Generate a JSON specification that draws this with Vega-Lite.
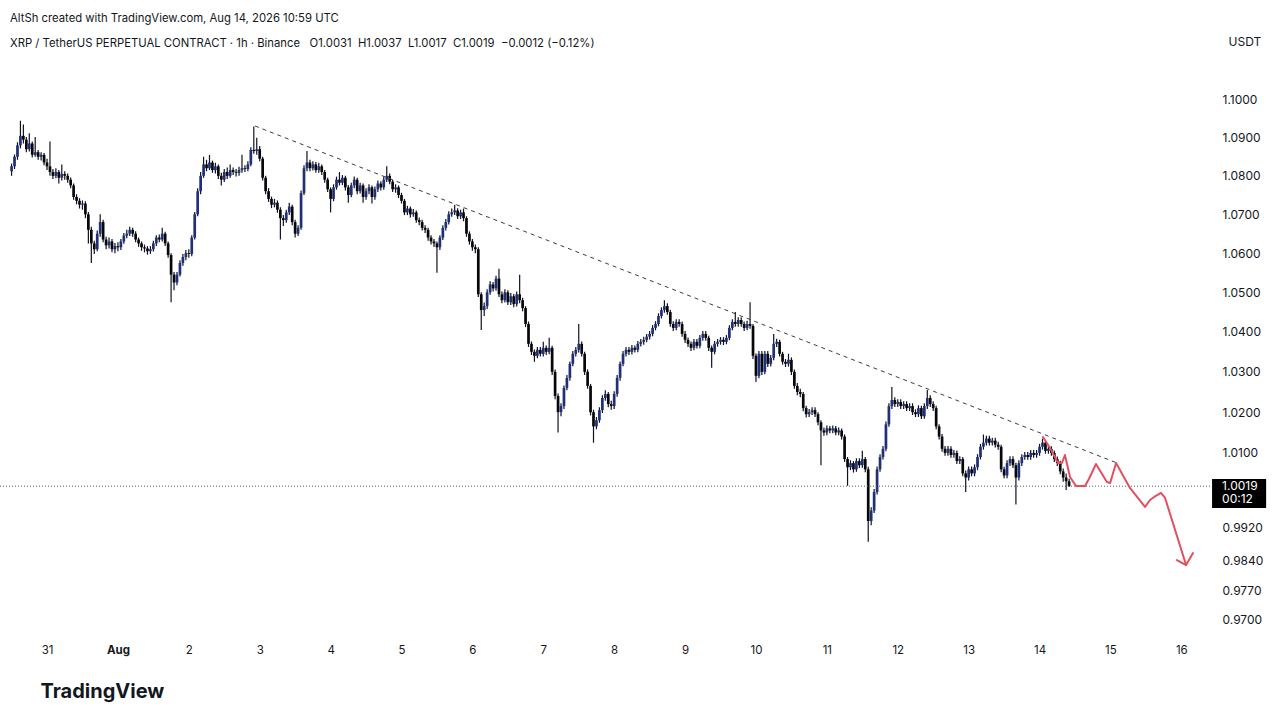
{
  "$schema": "https://vega.github.io/schema/vega-lite/v6.json",
  "width": 1210,
  "height": 565,
  "autosize": "none",
  "padding": {"left": 0, "top": 70, "right": 70, "bottom": 84},
  "background": "#ffffff",
  "config": {"view": {"stroke": null}, "font": "Inter"},
  "title": {
    "text": "AltSh created with TradingView.com, Aug 14, 2026 10:59 UTC",
    "subtitle": "\u00a0\u00a0XRP / TetherUS PERPETUAL CONTRACT · 1h · Binance\u00a0\u00a0 O1.0031\u00a0 H1.0037\u00a0 L1.0017\u00a0 C1.0019\u00a0 −0.0012 (−0.12%)",
    "anchor": "start",
    "frame": "group",
    "dx": 10,
    "dy": 38,
    "offset": 24,
    "font": "Inter",
    "fontSize": 11.3,
    "fontWeight": "normal",
    "color": "#131722",
    "subtitleFont": "Inter",
    "subtitleFontSize": 11.3,
    "subtitleColor": "#131722",
    "subtitlePadding": 13
  },
  "datasets": {
    "candles": [
      {"t":"2026-07-30T12:00","o":1.0812,"h":1.0832,"l":1.0800,"c":1.0825},
      {"t":"2026-07-30T13:00","o":1.0825,"h":1.0856,"l":1.0818,"c":1.0850},
      {"t":"2026-07-30T14:00","o":1.0850,"h":1.0888,"l":1.0842,"c":1.0880},
      {"t":"2026-07-30T15:00","o":1.0880,"h":1.0945,"l":1.0872,"c":1.0905},
      {"t":"2026-07-30T16:00","o":1.0905,"h":1.0935,"l":1.0885,"c":1.0895},
      {"t":"2026-07-30T17:00","o":1.0895,"h":1.0902,"l":1.0862,"c":1.0870},
      {"t":"2026-07-30T18:00","o":1.0870,"h":1.0912,"l":1.0864,"c":1.0885},
      {"t":"2026-07-30T19:00","o":1.0885,"h":1.0890,"l":1.0848,"c":1.0855},
      {"t":"2026-07-30T20:00","o":1.0855,"h":1.0902,"l":1.0850,"c":1.0862},
      {"t":"2026-07-30T21:00","o":1.0862,"h":1.0868,"l":1.0842,"c":1.0850},
      {"t":"2026-07-30T22:00","o":1.0850,"h":1.0862,"l":1.0840,"c":1.0855},
      {"t":"2026-07-30T23:00","o":1.0855,"h":1.0860,"l":1.0828,"c":1.0835},
      {"t":"2026-07-31T00:00","o":1.0835,"h":1.0845,"l":1.0815,"c":1.0825},
      {"t":"2026-07-31T01:00","o":1.0825,"h":1.0890,"l":1.0800,"c":1.0810},
      {"t":"2026-07-31T02:00","o":1.0810,"h":1.0818,"l":1.0792,"c":1.0800},
      {"t":"2026-07-31T03:00","o":1.0800,"h":1.0820,"l":1.0794,"c":1.0810},
      {"t":"2026-07-31T04:00","o":1.0810,"h":1.0815,"l":1.0780,"c":1.0795},
      {"t":"2026-07-31T05:00","o":1.0795,"h":1.0830,"l":1.0788,"c":1.0805},
      {"t":"2026-07-31T06:00","o":1.0805,"h":1.0812,"l":1.0790,"c":1.0800},
      {"t":"2026-07-31T07:00","o":1.0800,"h":1.0806,"l":1.0782,"c":1.0790},
      {"t":"2026-07-31T08:00","o":1.0790,"h":1.0796,"l":1.0768,"c":1.0775},
      {"t":"2026-07-31T09:00","o":1.0775,"h":1.0780,"l":1.0738,"c":1.0745},
      {"t":"2026-07-31T10:00","o":1.0745,"h":1.0752,"l":1.0726,"c":1.0735},
      {"t":"2026-07-31T11:00","o":1.0735,"h":1.0742,"l":1.0715,"c":1.0725},
      {"t":"2026-07-31T12:00","o":1.0725,"h":1.0736,"l":1.0712,"c":1.0728},
      {"t":"2026-07-31T13:00","o":1.0728,"h":1.0734,"l":1.0690,"c":1.0700},
      {"t":"2026-07-31T14:00","o":1.0700,"h":1.0706,"l":1.0625,"c":1.0660},
      {"t":"2026-07-31T15:00","o":1.0660,"h":1.0668,"l":1.0575,"c":1.0625},
      {"t":"2026-07-31T16:00","o":1.0625,"h":1.0632,"l":1.0598,"c":1.0610},
      {"t":"2026-07-31T17:00","o":1.0610,"h":1.0658,"l":1.0605,"c":1.0650},
      {"t":"2026-07-31T18:00","o":1.0650,"h":1.0700,"l":1.0642,"c":1.0680},
      {"t":"2026-07-31T19:00","o":1.0680,"h":1.0686,"l":1.0628,"c":1.0635},
      {"t":"2026-07-31T20:00","o":1.0635,"h":1.0642,"l":1.0610,"c":1.0620},
      {"t":"2026-07-31T21:00","o":1.0620,"h":1.0640,"l":1.0612,"c":1.0630},
      {"t":"2026-07-31T22:00","o":1.0630,"h":1.0636,"l":1.0602,"c":1.0610},
      {"t":"2026-07-31T23:00","o":1.0610,"h":1.0626,"l":1.0600,"c":1.0618},
      {"t":"2026-08-01T00:00","o":1.0618,"h":1.0628,"l":1.0605,"c":1.0615},
      {"t":"2026-08-01T01:00","o":1.0615,"h":1.0636,"l":1.0608,"c":1.0630},
      {"t":"2026-08-01T02:00","o":1.0630,"h":1.0652,"l":1.0624,"c":1.0645},
      {"t":"2026-08-01T03:00","o":1.0645,"h":1.0660,"l":1.0638,"c":1.0650},
      {"t":"2026-08-01T04:00","o":1.0650,"h":1.0668,"l":1.0644,"c":1.0660},
      {"t":"2026-08-01T05:00","o":1.0660,"h":1.0665,"l":1.0642,"c":1.0650},
      {"t":"2026-08-01T06:00","o":1.0650,"h":1.0656,"l":1.0628,"c":1.0635},
      {"t":"2026-08-01T07:00","o":1.0635,"h":1.0640,"l":1.0616,"c":1.0625},
      {"t":"2026-08-01T08:00","o":1.0625,"h":1.0630,"l":1.0606,"c":1.0615},
      {"t":"2026-08-01T09:00","o":1.0615,"h":1.0622,"l":1.0602,"c":1.0612},
      {"t":"2026-08-01T10:00","o":1.0612,"h":1.0618,"l":1.0596,"c":1.0605},
      {"t":"2026-08-01T11:00","o":1.0605,"h":1.0618,"l":1.0598,"c":1.0610},
      {"t":"2026-08-01T12:00","o":1.0610,"h":1.0632,"l":1.0604,"c":1.0625},
      {"t":"2026-08-01T13:00","o":1.0625,"h":1.0646,"l":1.0618,"c":1.0640},
      {"t":"2026-08-01T14:00","o":1.0640,"h":1.0648,"l":1.0628,"c":1.0635},
      {"t":"2026-08-01T15:00","o":1.0635,"h":1.0665,"l":1.0630,"c":1.0650},
      {"t":"2026-08-01T16:00","o":1.0650,"h":1.0655,"l":1.0618,"c":1.0625},
      {"t":"2026-08-01T17:00","o":1.0625,"h":1.0630,"l":1.0588,"c":1.0595},
      {"t":"2026-08-01T18:00","o":1.0595,"h":1.0600,"l":1.0475,"c":1.0545},
      {"t":"2026-08-01T19:00","o":1.0545,"h":1.0552,"l":1.0505,"c":1.0525},
      {"t":"2026-08-01T20:00","o":1.0525,"h":1.0552,"l":1.0518,"c":1.0545},
      {"t":"2026-08-01T21:00","o":1.0545,"h":1.0582,"l":1.0540,"c":1.0575},
      {"t":"2026-08-01T22:00","o":1.0575,"h":1.0598,"l":1.0568,"c":1.0590},
      {"t":"2026-08-01T23:00","o":1.0590,"h":1.0608,"l":1.0582,"c":1.0600},
      {"t":"2026-08-02T00:00","o":1.0600,"h":1.0610,"l":1.0588,"c":1.0598},
      {"t":"2026-08-02T01:00","o":1.0598,"h":1.0646,"l":1.0592,"c":1.0640},
      {"t":"2026-08-02T02:00","o":1.0640,"h":1.0706,"l":1.0635,"c":1.0700},
      {"t":"2026-08-02T03:00","o":1.0700,"h":1.0768,"l":1.0695,"c":1.0760},
      {"t":"2026-08-02T04:00","o":1.0760,"h":1.0810,"l":1.0752,"c":1.0800},
      {"t":"2026-08-02T05:00","o":1.0800,"h":1.0850,"l":1.0795,"c":1.0830},
      {"t":"2026-08-02T06:00","o":1.0830,"h":1.0842,"l":1.0812,"c":1.0820},
      {"t":"2026-08-02T07:00","o":1.0820,"h":1.0855,"l":1.0815,"c":1.0835},
      {"t":"2026-08-02T08:00","o":1.0835,"h":1.0840,"l":1.0808,"c":1.0815},
      {"t":"2026-08-02T09:00","o":1.0815,"h":1.0834,"l":1.0806,"c":1.0825},
      {"t":"2026-08-02T10:00","o":1.0825,"h":1.0830,"l":1.0792,"c":1.0800},
      {"t":"2026-08-02T11:00","o":1.0800,"h":1.0808,"l":1.0775,"c":1.0790},
      {"t":"2026-08-02T12:00","o":1.0790,"h":1.0818,"l":1.0784,"c":1.0810},
      {"t":"2026-08-02T13:00","o":1.0810,"h":1.0822,"l":1.0792,"c":1.0800},
      {"t":"2026-08-02T14:00","o":1.0800,"h":1.0830,"l":1.0795,"c":1.0815},
      {"t":"2026-08-02T15:00","o":1.0815,"h":1.0822,"l":1.0802,"c":1.0810},
      {"t":"2026-08-02T16:00","o":1.0810,"h":1.0818,"l":1.0798,"c":1.0808},
      {"t":"2026-08-02T17:00","o":1.0808,"h":1.0824,"l":1.0800,"c":1.0815},
      {"t":"2026-08-02T18:00","o":1.0815,"h":1.0855,"l":1.0808,"c":1.0820},
      {"t":"2026-08-02T19:00","o":1.0820,"h":1.0828,"l":1.0810,"c":1.0818},
      {"t":"2026-08-02T20:00","o":1.0818,"h":1.0838,"l":1.0812,"c":1.0830},
      {"t":"2026-08-02T21:00","o":1.0830,"h":1.0875,"l":1.0825,"c":1.0868},
      {"t":"2026-08-02T22:00","o":1.0868,"h":1.0930,"l":1.0858,"c":1.0865},
      {"t":"2026-08-02T23:00","o":1.0865,"h":1.0900,"l":1.0855,"c":1.0870},
      {"t":"2026-08-03T00:00","o":1.0870,"h":1.0878,"l":1.0838,"c":1.0845},
      {"t":"2026-08-03T01:00","o":1.0845,"h":1.0850,"l":1.0788,"c":1.0795},
      {"t":"2026-08-03T02:00","o":1.0795,"h":1.0800,"l":1.0752,"c":1.0760},
      {"t":"2026-08-03T03:00","o":1.0760,"h":1.0768,"l":1.0732,"c":1.0740},
      {"t":"2026-08-03T04:00","o":1.0740,"h":1.0746,"l":1.0716,"c":1.0725},
      {"t":"2026-08-03T05:00","o":1.0725,"h":1.0740,"l":1.0718,"c":1.0730},
      {"t":"2026-08-03T06:00","o":1.0730,"h":1.0736,"l":1.0704,"c":1.0712},
      {"t":"2026-08-03T07:00","o":1.0712,"h":1.0718,"l":1.0635,"c":1.0690},
      {"t":"2026-08-03T08:00","o":1.0690,"h":1.0698,"l":1.0670,"c":1.0685},
      {"t":"2026-08-03T09:00","o":1.0685,"h":1.0712,"l":1.0678,"c":1.0705},
      {"t":"2026-08-03T10:00","o":1.0705,"h":1.0730,"l":1.0698,"c":1.0720},
      {"t":"2026-08-03T11:00","o":1.0720,"h":1.0725,"l":1.0672,"c":1.0680},
      {"t":"2026-08-03T12:00","o":1.0680,"h":1.0686,"l":1.0640,"c":1.0650},
      {"t":"2026-08-03T13:00","o":1.0650,"h":1.0672,"l":1.0644,"c":1.0665},
      {"t":"2026-08-03T14:00","o":1.0665,"h":1.0762,"l":1.0660,"c":1.0755},
      {"t":"2026-08-03T15:00","o":1.0755,"h":1.0828,"l":1.0750,"c":1.0820},
      {"t":"2026-08-03T16:00","o":1.0820,"h":1.0865,"l":1.0812,"c":1.0835},
      {"t":"2026-08-03T17:00","o":1.0835,"h":1.0842,"l":1.0812,"c":1.0820},
      {"t":"2026-08-03T18:00","o":1.0820,"h":1.0838,"l":1.0814,"c":1.0830},
      {"t":"2026-08-03T19:00","o":1.0830,"h":1.0836,"l":1.0808,"c":1.0815},
      {"t":"2026-08-03T20:00","o":1.0815,"h":1.0834,"l":1.0808,"c":1.0825},
      {"t":"2026-08-03T21:00","o":1.0825,"h":1.0830,"l":1.0802,"c":1.0810},
      {"t":"2026-08-03T22:00","o":1.0810,"h":1.0815,"l":1.0782,"c":1.0790},
      {"t":"2026-08-03T23:00","o":1.0790,"h":1.0795,"l":1.0758,"c":1.0765},
      {"t":"2026-08-04T00:00","o":1.0765,"h":1.0770,"l":1.0705,"c":1.0740},
      {"t":"2026-08-04T01:00","o":1.0740,"h":1.0778,"l":1.0734,"c":1.0770},
      {"t":"2026-08-04T02:00","o":1.0770,"h":1.0798,"l":1.0764,"c":1.0790},
      {"t":"2026-08-04T03:00","o":1.0790,"h":1.0810,"l":1.0775,"c":1.0782},
      {"t":"2026-08-04T04:00","o":1.0782,"h":1.0802,"l":1.0776,"c":1.0795},
      {"t":"2026-08-04T05:00","o":1.0795,"h":1.0800,"l":1.0762,"c":1.0770},
      {"t":"2026-08-04T06:00","o":1.0770,"h":1.0776,"l":1.0730,"c":1.0750},
      {"t":"2026-08-04T07:00","o":1.0750,"h":1.0782,"l":1.0744,"c":1.0775},
      {"t":"2026-08-04T08:00","o":1.0775,"h":1.0798,"l":1.0768,"c":1.0790},
      {"t":"2026-08-04T09:00","o":1.0790,"h":1.0795,"l":1.0752,"c":1.0760},
      {"t":"2026-08-04T10:00","o":1.0760,"h":1.0782,"l":1.0754,"c":1.0775},
      {"t":"2026-08-04T11:00","o":1.0775,"h":1.0780,"l":1.0730,"c":1.0745},
      {"t":"2026-08-04T12:00","o":1.0745,"h":1.0768,"l":1.0738,"c":1.0760},
      {"t":"2026-08-04T13:00","o":1.0760,"h":1.0778,"l":1.0752,"c":1.0770},
      {"t":"2026-08-04T14:00","o":1.0770,"h":1.0775,"l":1.0728,"c":1.0745},
      {"t":"2026-08-04T15:00","o":1.0745,"h":1.0772,"l":1.0738,"c":1.0765},
      {"t":"2026-08-04T16:00","o":1.0765,"h":1.0788,"l":1.0758,"c":1.0780},
      {"t":"2026-08-04T17:00","o":1.0780,"h":1.0786,"l":1.0762,"c":1.0770},
      {"t":"2026-08-04T18:00","o":1.0770,"h":1.0798,"l":1.0764,"c":1.0790},
      {"t":"2026-08-04T19:00","o":1.0790,"h":1.0825,"l":1.0784,"c":1.0800},
      {"t":"2026-08-04T20:00","o":1.0800,"h":1.0806,"l":1.0778,"c":1.0785},
      {"t":"2026-08-04T21:00","o":1.0785,"h":1.0790,"l":1.0758,"c":1.0765},
      {"t":"2026-08-04T22:00","o":1.0765,"h":1.0778,"l":1.0756,"c":1.0770},
      {"t":"2026-08-04T23:00","o":1.0770,"h":1.0775,"l":1.0742,"c":1.0750},
      {"t":"2026-08-05T00:00","o":1.0750,"h":1.0756,"l":1.0728,"c":1.0735},
      {"t":"2026-08-05T01:00","o":1.0735,"h":1.0740,"l":1.0698,"c":1.0705},
      {"t":"2026-08-05T02:00","o":1.0705,"h":1.0722,"l":1.0698,"c":1.0715},
      {"t":"2026-08-05T03:00","o":1.0715,"h":1.0720,"l":1.0692,"c":1.0700},
      {"t":"2026-08-05T04:00","o":1.0700,"h":1.0714,"l":1.0694,"c":1.0705},
      {"t":"2026-08-05T05:00","o":1.0705,"h":1.0710,"l":1.0678,"c":1.0685},
      {"t":"2026-08-05T06:00","o":1.0685,"h":1.0692,"l":1.0672,"c":1.0680},
      {"t":"2026-08-05T07:00","o":1.0680,"h":1.0686,"l":1.0658,"c":1.0665},
      {"t":"2026-08-05T08:00","o":1.0665,"h":1.0672,"l":1.0652,"c":1.0660},
      {"t":"2026-08-05T09:00","o":1.0660,"h":1.0665,"l":1.0632,"c":1.0640},
      {"t":"2026-08-05T10:00","o":1.0640,"h":1.0646,"l":1.0622,"c":1.0630},
      {"t":"2026-08-05T11:00","o":1.0630,"h":1.0636,"l":1.0616,"c":1.0625},
      {"t":"2026-08-05T12:00","o":1.0625,"h":1.0630,"l":1.0550,"c":1.0615},
      {"t":"2026-08-05T13:00","o":1.0615,"h":1.0646,"l":1.0608,"c":1.0640},
      {"t":"2026-08-05T14:00","o":1.0640,"h":1.0672,"l":1.0634,"c":1.0665},
      {"t":"2026-08-05T15:00","o":1.0665,"h":1.0688,"l":1.0658,"c":1.0680},
      {"t":"2026-08-05T16:00","o":1.0680,"h":1.0708,"l":1.0674,"c":1.0700},
      {"t":"2026-08-05T17:00","o":1.0700,"h":1.0715,"l":1.0694,"c":1.0705},
      {"t":"2026-08-05T18:00","o":1.0705,"h":1.0725,"l":1.0698,"c":1.0710},
      {"t":"2026-08-05T19:00","o":1.0710,"h":1.0716,"l":1.0688,"c":1.0695},
      {"t":"2026-08-05T20:00","o":1.0695,"h":1.0712,"l":1.0688,"c":1.0705},
      {"t":"2026-08-05T21:00","o":1.0705,"h":1.0715,"l":1.0682,"c":1.0690},
      {"t":"2026-08-05T22:00","o":1.0690,"h":1.0695,"l":1.0642,"c":1.0650},
      {"t":"2026-08-05T23:00","o":1.0650,"h":1.0656,"l":1.0622,"c":1.0630},
      {"t":"2026-08-06T00:00","o":1.0630,"h":1.0636,"l":1.0606,"c":1.0615},
      {"t":"2026-08-06T01:00","o":1.0615,"h":1.0622,"l":1.0600,"c":1.0610},
      {"t":"2026-08-06T02:00","o":1.0610,"h":1.0615,"l":1.0488,"c":1.0495},
      {"t":"2026-08-06T03:00","o":1.0495,"h":1.0500,"l":1.0405,"c":1.0455},
      {"t":"2026-08-06T04:00","o":1.0455,"h":1.0474,"l":1.0440,"c":1.0465},
      {"t":"2026-08-06T05:00","o":1.0465,"h":1.0508,"l":1.0458,"c":1.0500},
      {"t":"2026-08-06T06:00","o":1.0500,"h":1.0528,"l":1.0494,"c":1.0520},
      {"t":"2026-08-06T07:00","o":1.0520,"h":1.0526,"l":1.0502,"c":1.0510},
      {"t":"2026-08-06T08:00","o":1.0510,"h":1.0542,"l":1.0504,"c":1.0535},
      {"t":"2026-08-06T09:00","o":1.0535,"h":1.0560,"l":1.0488,"c":1.0495},
      {"t":"2026-08-06T10:00","o":1.0495,"h":1.0502,"l":1.0472,"c":1.0480},
      {"t":"2026-08-06T11:00","o":1.0480,"h":1.0508,"l":1.0474,"c":1.0500},
      {"t":"2026-08-06T12:00","o":1.0500,"h":1.0505,"l":1.0468,"c":1.0475},
      {"t":"2026-08-06T13:00","o":1.0475,"h":1.0498,"l":1.0468,"c":1.0490},
      {"t":"2026-08-06T14:00","o":1.0490,"h":1.0496,"l":1.0462,"c":1.0470},
      {"t":"2026-08-06T15:00","o":1.0470,"h":1.0502,"l":1.0464,"c":1.0495},
      {"t":"2026-08-06T16:00","o":1.0495,"h":1.0545,"l":1.0472,"c":1.0480},
      {"t":"2026-08-06T17:00","o":1.0480,"h":1.0486,"l":1.0452,"c":1.0460},
      {"t":"2026-08-06T18:00","o":1.0460,"h":1.0465,"l":1.0412,"c":1.0420},
      {"t":"2026-08-06T19:00","o":1.0420,"h":1.0426,"l":1.0362,"c":1.0370},
      {"t":"2026-08-06T20:00","o":1.0370,"h":1.0376,"l":1.0342,"c":1.0350},
      {"t":"2026-08-06T21:00","o":1.0350,"h":1.0356,"l":1.0325,"c":1.0340},
      {"t":"2026-08-06T22:00","o":1.0340,"h":1.0362,"l":1.0334,"c":1.0355},
      {"t":"2026-08-06T23:00","o":1.0355,"h":1.0362,"l":1.0338,"c":1.0345},
      {"t":"2026-08-07T00:00","o":1.0345,"h":1.0375,"l":1.0338,"c":1.0360},
      {"t":"2026-08-07T01:00","o":1.0360,"h":1.0366,"l":1.0342,"c":1.0350},
      {"t":"2026-08-07T02:00","o":1.0350,"h":1.0385,"l":1.0344,"c":1.0360},
      {"t":"2026-08-07T03:00","o":1.0360,"h":1.0365,"l":1.0292,"c":1.0300},
      {"t":"2026-08-07T04:00","o":1.0300,"h":1.0306,"l":1.0232,"c":1.0240},
      {"t":"2026-08-07T05:00","o":1.0240,"h":1.0246,"l":1.0150,"c":1.0200},
      {"t":"2026-08-07T06:00","o":1.0200,"h":1.0222,"l":1.0190,"c":1.0215},
      {"t":"2026-08-07T07:00","o":1.0215,"h":1.0266,"l":1.0208,"c":1.0260},
      {"t":"2026-08-07T08:00","o":1.0260,"h":1.0292,"l":1.0254,"c":1.0285},
      {"t":"2026-08-07T09:00","o":1.0285,"h":1.0326,"l":1.0278,"c":1.0320},
      {"t":"2026-08-07T10:00","o":1.0320,"h":1.0352,"l":1.0314,"c":1.0345},
      {"t":"2026-08-07T11:00","o":1.0345,"h":1.0362,"l":1.0338,"c":1.0355},
      {"t":"2026-08-07T12:00","o":1.0355,"h":1.0420,"l":1.0348,"c":1.0370},
      {"t":"2026-08-07T13:00","o":1.0370,"h":1.0376,"l":1.0338,"c":1.0345},
      {"t":"2026-08-07T14:00","o":1.0345,"h":1.0350,"l":1.0292,"c":1.0300},
      {"t":"2026-08-07T15:00","o":1.0300,"h":1.0306,"l":1.0258,"c":1.0265},
      {"t":"2026-08-07T16:00","o":1.0265,"h":1.0270,"l":1.0192,"c":1.0200},
      {"t":"2026-08-07T17:00","o":1.0200,"h":1.0206,"l":1.0125,"c":1.0165},
      {"t":"2026-08-07T18:00","o":1.0165,"h":1.0188,"l":1.0158,"c":1.0180},
      {"t":"2026-08-07T19:00","o":1.0180,"h":1.0212,"l":1.0174,"c":1.0205},
      {"t":"2026-08-07T20:00","o":1.0205,"h":1.0242,"l":1.0198,"c":1.0235},
      {"t":"2026-08-07T21:00","o":1.0235,"h":1.0254,"l":1.0228,"c":1.0245},
      {"t":"2026-08-07T22:00","o":1.0245,"h":1.0250,"l":1.0212,"c":1.0220},
      {"t":"2026-08-07T23:00","o":1.0220,"h":1.0228,"l":1.0206,"c":1.0215},
      {"t":"2026-08-08T00:00","o":1.0215,"h":1.0252,"l":1.0208,"c":1.0245},
      {"t":"2026-08-08T01:00","o":1.0245,"h":1.0292,"l":1.0238,"c":1.0285},
      {"t":"2026-08-08T02:00","o":1.0285,"h":1.0326,"l":1.0278,"c":1.0320},
      {"t":"2026-08-08T03:00","o":1.0320,"h":1.0352,"l":1.0314,"c":1.0345},
      {"t":"2026-08-08T04:00","o":1.0345,"h":1.0362,"l":1.0338,"c":1.0355},
      {"t":"2026-08-08T05:00","o":1.0355,"h":1.0362,"l":1.0342,"c":1.0350},
      {"t":"2026-08-08T06:00","o":1.0350,"h":1.0367,"l":1.0343,"c":1.0360},
      {"t":"2026-08-08T07:00","o":1.0360,"h":1.0366,"l":1.0348,"c":1.0355},
      {"t":"2026-08-08T08:00","o":1.0355,"h":1.0377,"l":1.0349,"c":1.0370},
      {"t":"2026-08-08T09:00","o":1.0370,"h":1.0382,"l":1.0363,"c":1.0375},
      {"t":"2026-08-08T10:00","o":1.0375,"h":1.0388,"l":1.0368,"c":1.0380},
      {"t":"2026-08-08T11:00","o":1.0380,"h":1.0395,"l":1.0374,"c":1.0388},
      {"t":"2026-08-08T12:00","o":1.0388,"h":1.0402,"l":1.0381,"c":1.0395},
      {"t":"2026-08-08T13:00","o":1.0395,"h":1.0417,"l":1.0389,"c":1.0410},
      {"t":"2026-08-08T14:00","o":1.0410,"h":1.0427,"l":1.0404,"c":1.0420},
      {"t":"2026-08-08T15:00","o":1.0420,"h":1.0447,"l":1.0414,"c":1.0440},
      {"t":"2026-08-08T16:00","o":1.0440,"h":1.0462,"l":1.0434,"c":1.0455},
      {"t":"2026-08-08T17:00","o":1.0455,"h":1.0480,"l":1.0448,"c":1.0465},
      {"t":"2026-08-08T18:00","o":1.0465,"h":1.0472,"l":1.0443,"c":1.0450},
      {"t":"2026-08-08T19:00","o":1.0450,"h":1.0456,"l":1.0413,"c":1.0420},
      {"t":"2026-08-08T20:00","o":1.0420,"h":1.0427,"l":1.0402,"c":1.0410},
      {"t":"2026-08-08T21:00","o":1.0410,"h":1.0432,"l":1.0404,"c":1.0425},
      {"t":"2026-08-08T22:00","o":1.0425,"h":1.0432,"l":1.0413,"c":1.0420},
      {"t":"2026-08-08T23:00","o":1.0420,"h":1.0426,"l":1.0388,"c":1.0395},
      {"t":"2026-08-09T00:00","o":1.0395,"h":1.0402,"l":1.0372,"c":1.0380},
      {"t":"2026-08-09T01:00","o":1.0380,"h":1.0386,"l":1.0362,"c":1.0370},
      {"t":"2026-08-09T02:00","o":1.0370,"h":1.0376,"l":1.0352,"c":1.0360},
      {"t":"2026-08-09T03:00","o":1.0360,"h":1.0382,"l":1.0354,"c":1.0375},
      {"t":"2026-08-09T04:00","o":1.0375,"h":1.0382,"l":1.0358,"c":1.0365},
      {"t":"2026-08-09T05:00","o":1.0365,"h":1.0392,"l":1.0359,"c":1.0385},
      {"t":"2026-08-09T06:00","o":1.0385,"h":1.0402,"l":1.0378,"c":1.0395},
      {"t":"2026-08-09T07:00","o":1.0395,"h":1.0402,"l":1.0378,"c":1.0385},
      {"t":"2026-08-09T08:00","o":1.0385,"h":1.0390,"l":1.0352,"c":1.0360},
      {"t":"2026-08-09T09:00","o":1.0360,"h":1.0366,"l":1.0310,"c":1.0350},
      {"t":"2026-08-09T10:00","o":1.0350,"h":1.0377,"l":1.0344,"c":1.0370},
      {"t":"2026-08-09T11:00","o":1.0370,"h":1.0382,"l":1.0363,"c":1.0375},
      {"t":"2026-08-09T12:00","o":1.0375,"h":1.0387,"l":1.0368,"c":1.0380},
      {"t":"2026-08-09T13:00","o":1.0380,"h":1.0387,"l":1.0367,"c":1.0375},
      {"t":"2026-08-09T14:00","o":1.0375,"h":1.0392,"l":1.0369,"c":1.0385},
      {"t":"2026-08-09T15:00","o":1.0385,"h":1.0417,"l":1.0379,"c":1.0410},
      {"t":"2026-08-09T16:00","o":1.0410,"h":1.0432,"l":1.0404,"c":1.0425},
      {"t":"2026-08-09T17:00","o":1.0425,"h":1.0450,"l":1.0413,"c":1.0420},
      {"t":"2026-08-09T18:00","o":1.0420,"h":1.0437,"l":1.0413,"c":1.0430},
      {"t":"2026-08-09T19:00","o":1.0430,"h":1.0437,"l":1.0413,"c":1.0420},
      {"t":"2026-08-09T20:00","o":1.0420,"h":1.0426,"l":1.0402,"c":1.0410},
      {"t":"2026-08-09T21:00","o":1.0410,"h":1.0428,"l":1.0404,"c":1.0420},
      {"t":"2026-08-09T22:00","o":1.0420,"h":1.0475,"l":1.0408,"c":1.0415},
      {"t":"2026-08-09T23:00","o":1.0415,"h":1.0420,"l":1.0332,"c":1.0340},
      {"t":"2026-08-10T00:00","o":1.0340,"h":1.0346,"l":1.0275,"c":1.0290},
      {"t":"2026-08-10T01:00","o":1.0290,"h":1.0352,"l":1.0284,"c":1.0345},
      {"t":"2026-08-10T02:00","o":1.0345,"h":1.0352,"l":1.0292,"c":1.0300},
      {"t":"2026-08-10T03:00","o":1.0300,"h":1.0352,"l":1.0294,"c":1.0345},
      {"t":"2026-08-10T04:00","o":1.0345,"h":1.0352,"l":1.0312,"c":1.0320},
      {"t":"2026-08-10T05:00","o":1.0320,"h":1.0342,"l":1.0313,"c":1.0335},
      {"t":"2026-08-10T06:00","o":1.0335,"h":1.0395,"l":1.0329,"c":1.0370},
      {"t":"2026-08-10T07:00","o":1.0370,"h":1.0383,"l":1.0362,"c":1.0375},
      {"t":"2026-08-10T08:00","o":1.0375,"h":1.0380,"l":1.0338,"c":1.0345},
      {"t":"2026-08-10T09:00","o":1.0345,"h":1.0350,"l":1.0318,"c":1.0325},
      {"t":"2026-08-10T10:00","o":1.0325,"h":1.0332,"l":1.0312,"c":1.0320},
      {"t":"2026-08-10T11:00","o":1.0320,"h":1.0345,"l":1.0313,"c":1.0330},
      {"t":"2026-08-10T12:00","o":1.0330,"h":1.0336,"l":1.0292,"c":1.0300},
      {"t":"2026-08-10T13:00","o":1.0300,"h":1.0306,"l":1.0258,"c":1.0265},
      {"t":"2026-08-10T14:00","o":1.0265,"h":1.0272,"l":1.0242,"c":1.0250},
      {"t":"2026-08-10T15:00","o":1.0250,"h":1.0258,"l":1.0237,"c":1.0245},
      {"t":"2026-08-10T16:00","o":1.0245,"h":1.0250,"l":1.0202,"c":1.0210},
      {"t":"2026-08-10T17:00","o":1.0210,"h":1.0216,"l":1.0187,"c":1.0195},
      {"t":"2026-08-10T18:00","o":1.0195,"h":1.0208,"l":1.0188,"c":1.0200},
      {"t":"2026-08-10T19:00","o":1.0200,"h":1.0212,"l":1.0193,"c":1.0205},
      {"t":"2026-08-10T20:00","o":1.0205,"h":1.0212,"l":1.0188,"c":1.0195},
      {"t":"2026-08-10T21:00","o":1.0195,"h":1.0200,"l":1.0168,"c":1.0175},
      {"t":"2026-08-10T22:00","o":1.0175,"h":1.0180,"l":1.0070,"c":1.0155},
      {"t":"2026-08-10T23:00","o":1.0155,"h":1.0162,"l":1.0142,"c":1.0150},
      {"t":"2026-08-11T00:00","o":1.0150,"h":1.0167,"l":1.0143,"c":1.0160},
      {"t":"2026-08-11T01:00","o":1.0160,"h":1.0166,"l":1.0148,"c":1.0155},
      {"t":"2026-08-11T02:00","o":1.0155,"h":1.0167,"l":1.0148,"c":1.0160},
      {"t":"2026-08-11T03:00","o":1.0160,"h":1.0166,"l":1.0143,"c":1.0150},
      {"t":"2026-08-11T04:00","o":1.0150,"h":1.0162,"l":1.0143,"c":1.0155},
      {"t":"2026-08-11T05:00","o":1.0155,"h":1.0160,"l":1.0133,"c":1.0140},
      {"t":"2026-08-11T06:00","o":1.0140,"h":1.0145,"l":1.0078,"c":1.0085},
      {"t":"2026-08-11T07:00","o":1.0085,"h":1.0090,"l":1.0020,"c":1.0065},
      {"t":"2026-08-11T08:00","o":1.0065,"h":1.0082,"l":1.0058,"c":1.0075},
      {"t":"2026-08-11T09:00","o":1.0075,"h":1.0080,"l":1.0052,"c":1.0060},
      {"t":"2026-08-11T10:00","o":1.0060,"h":1.0087,"l":1.0054,"c":1.0080},
      {"t":"2026-08-11T11:00","o":1.0080,"h":1.0087,"l":1.0063,"c":1.0070},
      {"t":"2026-08-11T12:00","o":1.0070,"h":1.0105,"l":1.0064,"c":1.0085},
      {"t":"2026-08-11T13:00","o":1.0085,"h":1.0090,"l":1.0053,"c":1.0060},
      {"t":"2026-08-11T14:00","o":1.0060,"h":1.0066,"l":0.9885,"c":0.9935},
      {"t":"2026-08-11T15:00","o":0.9935,"h":0.9968,"l":0.9925,"c":0.9960},
      {"t":"2026-08-11T16:00","o":0.9960,"h":1.0012,"l":0.9954,"c":1.0005},
      {"t":"2026-08-11T17:00","o":1.0005,"h":1.0067,"l":0.9999,"c":1.0060},
      {"t":"2026-08-11T18:00","o":1.0060,"h":1.0097,"l":1.0054,"c":1.0090},
      {"t":"2026-08-11T19:00","o":1.0090,"h":1.0117,"l":1.0084,"c":1.0110},
      {"t":"2026-08-11T20:00","o":1.0110,"h":1.0177,"l":1.0104,"c":1.0170},
      {"t":"2026-08-11T21:00","o":1.0170,"h":1.0222,"l":1.0164,"c":1.0215},
      {"t":"2026-08-11T22:00","o":1.0215,"h":1.0262,"l":1.0208,"c":1.0230},
      {"t":"2026-08-11T23:00","o":1.0230,"h":1.0237,"l":1.0213,"c":1.0220},
      {"t":"2026-08-12T00:00","o":1.0220,"h":1.0232,"l":1.0213,"c":1.0225},
      {"t":"2026-08-12T01:00","o":1.0225,"h":1.0232,"l":1.0208,"c":1.0215},
      {"t":"2026-08-12T02:00","o":1.0215,"h":1.0227,"l":1.0208,"c":1.0220},
      {"t":"2026-08-12T03:00","o":1.0220,"h":1.0227,"l":1.0203,"c":1.0210},
      {"t":"2026-08-12T04:00","o":1.0210,"h":1.0222,"l":1.0203,"c":1.0215},
      {"t":"2026-08-12T05:00","o":1.0215,"h":1.0222,"l":1.0193,"c":1.0200},
      {"t":"2026-08-12T06:00","o":1.0200,"h":1.0207,"l":1.0188,"c":1.0195},
      {"t":"2026-08-12T07:00","o":1.0195,"h":1.0217,"l":1.0188,"c":1.0210},
      {"t":"2026-08-12T08:00","o":1.0210,"h":1.0216,"l":1.0183,"c":1.0190},
      {"t":"2026-08-12T09:00","o":1.0190,"h":1.0222,"l":1.0184,"c":1.0215},
      {"t":"2026-08-12T10:00","o":1.0215,"h":1.0255,"l":1.0208,"c":1.0235},
      {"t":"2026-08-12T11:00","o":1.0235,"h":1.0242,"l":1.0213,"c":1.0220},
      {"t":"2026-08-12T12:00","o":1.0220,"h":1.0227,"l":1.0203,"c":1.0210},
      {"t":"2026-08-12T13:00","o":1.0210,"h":1.0216,"l":1.0158,"c":1.0165},
      {"t":"2026-08-12T14:00","o":1.0165,"h":1.0170,"l":1.0133,"c":1.0140},
      {"t":"2026-08-12T15:00","o":1.0140,"h":1.0146,"l":1.0103,"c":1.0110},
      {"t":"2026-08-12T16:00","o":1.0110,"h":1.0117,"l":1.0093,"c":1.0100},
      {"t":"2026-08-12T17:00","o":1.0100,"h":1.0117,"l":1.0093,"c":1.0110},
      {"t":"2026-08-12T18:00","o":1.0110,"h":1.0116,"l":1.0088,"c":1.0095},
      {"t":"2026-08-12T19:00","o":1.0095,"h":1.0107,"l":1.0088,"c":1.0100},
      {"t":"2026-08-12T20:00","o":1.0100,"h":1.0106,"l":1.0073,"c":1.0080},
      {"t":"2026-08-12T21:00","o":1.0080,"h":1.0092,"l":1.0073,"c":1.0085},
      {"t":"2026-08-12T22:00","o":1.0085,"h":1.0090,"l":1.0043,"c":1.0050},
      {"t":"2026-08-12T23:00","o":1.0050,"h":1.0057,"l":1.0005,"c":1.0040},
      {"t":"2026-08-13T00:00","o":1.0040,"h":1.0067,"l":1.0033,"c":1.0060},
      {"t":"2026-08-13T01:00","o":1.0060,"h":1.0067,"l":1.0043,"c":1.0050},
      {"t":"2026-08-13T02:00","o":1.0050,"h":1.0072,"l":1.0043,"c":1.0065},
      {"t":"2026-08-13T03:00","o":1.0065,"h":1.0097,"l":1.0058,"c":1.0090},
      {"t":"2026-08-13T04:00","o":1.0090,"h":1.0122,"l":1.0084,"c":1.0115},
      {"t":"2026-08-13T05:00","o":1.0115,"h":1.0145,"l":1.0108,"c":1.0125},
      {"t":"2026-08-13T06:00","o":1.0125,"h":1.0142,"l":1.0118,"c":1.0135},
      {"t":"2026-08-13T07:00","o":1.0135,"h":1.0142,"l":1.0118,"c":1.0125},
      {"t":"2026-08-13T08:00","o":1.0125,"h":1.0137,"l":1.0118,"c":1.0130},
      {"t":"2026-08-13T09:00","o":1.0130,"h":1.0137,"l":1.0113,"c":1.0120},
      {"t":"2026-08-13T10:00","o":1.0120,"h":1.0127,"l":1.0108,"c":1.0115},
      {"t":"2026-08-13T11:00","o":1.0115,"h":1.0120,"l":1.0053,"c":1.0060},
      {"t":"2026-08-13T12:00","o":1.0060,"h":1.0066,"l":1.0038,"c":1.0045},
      {"t":"2026-08-13T13:00","o":1.0045,"h":1.0082,"l":1.0038,"c":1.0075},
      {"t":"2026-08-13T14:00","o":1.0075,"h":1.0092,"l":1.0068,"c":1.0085},
      {"t":"2026-08-13T15:00","o":1.0085,"h":1.0092,"l":1.0063,"c":1.0070},
      {"t":"2026-08-13T16:00","o":1.0070,"h":1.0076,"l":0.9975,"c":1.0040},
      {"t":"2026-08-13T17:00","o":1.0040,"h":1.0082,"l":1.0033,"c":1.0075},
      {"t":"2026-08-13T18:00","o":1.0075,"h":1.0097,"l":1.0068,"c":1.0090},
      {"t":"2026-08-13T19:00","o":1.0090,"h":1.0102,"l":1.0083,"c":1.0095},
      {"t":"2026-08-13T20:00","o":1.0095,"h":1.0102,"l":1.0083,"c":1.0090},
      {"t":"2026-08-13T21:00","o":1.0090,"h":1.0107,"l":1.0083,"c":1.0100},
      {"t":"2026-08-13T22:00","o":1.0100,"h":1.0107,"l":1.0088,"c":1.0095},
      {"t":"2026-08-13T23:00","o":1.0095,"h":1.0107,"l":1.0088,"c":1.0100},
      {"t":"2026-08-14T00:00","o":1.0100,"h":1.0122,"l":1.0093,"c":1.0115},
      {"t":"2026-08-14T01:00","o":1.0115,"h":1.0135,"l":1.0108,"c":1.0125},
      {"t":"2026-08-14T02:00","o":1.0125,"h":1.0131,"l":1.0098,"c":1.0105},
      {"t":"2026-08-14T03:00","o":1.0105,"h":1.0117,"l":1.0098,"c":1.0110},
      {"t":"2026-08-14T04:00","o":1.0110,"h":1.0116,"l":1.0093,"c":1.0100},
      {"t":"2026-08-14T05:00","o":1.0100,"h":1.0106,"l":1.0078,"c":1.0085},
      {"t":"2026-08-14T06:00","o":1.0085,"h":1.0091,"l":1.0068,"c":1.0075},
      {"t":"2026-08-14T07:00","o":1.0075,"h":1.0081,"l":1.0048,"c":1.0055},
      {"t":"2026-08-14T08:00","o":1.0055,"h":1.0062,"l":1.0030,"c":1.0040},
      {"t":"2026-08-14T09:00","o":1.0040,"h":1.0050,"l":1.0010,"c":1.0031},
      {"t":"2026-08-14T10:00","o":1.0031,"h":1.0037,"l":1.0017,"c":1.0019}
    ],
    "trend": [
      {"t":"2026-08-02T22:25","p":1.0931},
      {"t":"2026-08-15T02:12","p":1.00755}
    ],
    "last": [{"p":1.0019}],
    "forecast": [
      {"s":"path","i":1,"t":"2026-08-14T01:10","p":1.01389},
      {"s":"path","i":2,"t":"2026-08-14T03:32","p":1.01121},
      {"s":"path","i":3,"t":"2026-08-14T06:15","p":1.00755},
      {"s":"path","i":4,"t":"2026-08-14T07:36","p":1.00755},
      {"s":"path","i":5,"t":"2026-08-14T08:36","p":1.00949},
      {"s":"path","i":6,"t":"2026-08-14T10:18","p":1.00414},
      {"s":"path","i":7,"t":"2026-08-14T12:21","p":1.00195},
      {"s":"path","i":8,"t":"2026-08-14T15:24","p":1.00195},
      {"s":"path","i":9,"t":"2026-08-14T16:42","p":1.00365},
      {"s":"path","i":10,"t":"2026-08-14T19:06","p":1.0073},
      {"s":"path","i":11,"t":"2026-08-14T22:48","p":1.00293},
      {"s":"path","i":12,"t":"2026-08-14T23:54","p":1.00268},
      {"s":"path","i":13,"t":"2026-08-15T00:30","p":1.00414},
      {"s":"path","i":14,"t":"2026-08-15T01:54","p":1.00755},
      {"s":"path","i":15,"t":"2026-08-15T06:36","p":1.00147},
      {"s":"path","i":16,"t":"2026-08-15T11:42","p":0.99688},
      {"s":"path","i":17,"t":"2026-08-15T13:24","p":0.99856},
      {"s":"path","i":18,"t":"2026-08-15T14:48","p":0.99929},
      {"s":"path","i":19,"t":"2026-08-15T17:06","p":1.00026},
      {"s":"path","i":20,"t":"2026-08-15T18:30","p":0.99905},
      {"s":"path","i":21,"t":"2026-08-16T01:36","p":0.98297},
      {"s":"head","i":1,"t":"2026-08-15T22:30","p":0.98417},
      {"s":"head","i":2,"t":"2026-08-16T01:36","p":0.98297},
      {"s":"head","i":3,"t":"2026-08-16T03:58","p":0.98583}
    ],
    "badge": [
      {"t1":"2026-08-16T10:24","t2":"2026-08-17T04:42","p1":1.00366,"p2":0.99663}
    ],
    "badgeText": [
      {"t":"2026-08-16T13:48","p":1.0019,"label":"1.0019"},
      {"t":"2026-08-16T13:48","p":0.99879,"label":"00:12"}
    ]
  },
  "layer": [
    {
      "data": {"name": "candles"},
      "mark": {"type": "rule", "strokeWidth": 1.2, "color": "#0f1220"},
      "encoding": {
        "x": {
          "field": "t",
          "type": "temporal",
          "scale": {
            "padding": 0,
            "domain": [
              {"year": 2026, "month": 7, "date": 30, "hours": 8, "minutes": 5},
              {"year": 2026, "month": 8, "date": 16, "hours": 9, "minutes": 42}
            ]
          },
          "axis": {
            "values": [
              {"year": 2026, "month": 7, "date": 31},
              {"year": 2026, "month": 8, "date": 1},
              {"year": 2026, "month": 8, "date": 2},
              {"year": 2026, "month": 8, "date": 3},
              {"year": 2026, "month": 8, "date": 4},
              {"year": 2026, "month": 8, "date": 5},
              {"year": 2026, "month": 8, "date": 6},
              {"year": 2026, "month": 8, "date": 7},
              {"year": 2026, "month": 8, "date": 8},
              {"year": 2026, "month": 8, "date": 9},
              {"year": 2026, "month": 8, "date": 10},
              {"year": 2026, "month": 8, "date": 11},
              {"year": 2026, "month": 8, "date": 12},
              {"year": 2026, "month": 8, "date": 13},
              {"year": 2026, "month": 8, "date": 14},
              {"year": 2026, "month": 8, "date": 15},
              {"year": 2026, "month": 8, "date": 16}
            ],
            "labelExpr": "date(datum.value) == 1 ? 'Aug' : '' + date(datum.value)",
            "labelFontWeight": {"condition": {"test": "date(datum.value) == 1", "value": "bold"}, "value": "normal"},
            "labelFont": "Inter",
            "labelFontSize": 11.5,
            "labelColor": "#131722",
            "labelPadding": 9,
            "labelOverlap": false,
            "labelFlush": false,
            "domain": false,
            "ticks": false,
            "grid": false,
            "title": "TradingView",
            "titleFont": "Inter",
            "titleFontSize": 20,
            "titleFontWeight": "bold",
            "titleColor": "#131722",
            "titleAlign": "left",
            "titleAnchor": "start",
            "titleBaseline": "middle",
            "titleX": 40,
            "titleY": 56
          }
        },
        "y": {
          "field": "l",
          "type": "quantitative",
          "scale": {"type": "log", "domain": [0.96648, 1.10801], "nice": false, "zero": false},
          "axis": {
            "orient": "right",
            "values": [1.1, 1.09, 1.08, 1.07, 1.06, 1.05, 1.04, 1.03, 1.02, 1.01, 0.992, 0.984, 0.977, 0.97],
            "format": ".4f",
            "labelFont": "Inter",
            "labelFontSize": 12,
            "labelColor": "#131722",
            "labelPadding": 12,
            "labelOverlap": false,
            "labelFlush": false,
            "domain": false,
            "ticks": false,
            "grid": false,
            "title": "USDT",
            "titleAngle": 0,
            "titleFont": "Inter",
            "titleFontSize": 12,
            "titleFontWeight": "normal",
            "titleColor": "#131722",
            "titleAlign": "left",
            "titleBaseline": "middle",
            "titleX": 18,
            "titleY": -29
          }
        },
        "y2": {"field": "h"}
      }
    },
    {
      "data": {"name": "candles"},
      "mark": {"type": "bar", "size": 2.7},
      "encoding": {
        "x": {"field": "t", "type": "temporal"},
        "y": {"field": "o", "type": "quantitative"},
        "y2": {"field": "c"},
        "color": {
          "condition": {"test": "datum.c >= datum.o", "value": "#1f2f78"},
          "value": "#06070b"
        }
      }
    },
    {
      "data": {"name": "trend"},
      "mark": {"type": "line", "color": "#3a3d47", "strokeWidth": 1, "strokeDash": [4, 4]},
      "encoding": {
        "x": {"field": "t", "type": "temporal"},
        "y": {"field": "p", "type": "quantitative"}
      }
    },
    {
      "data": {"name": "last"},
      "mark": {"type": "rule", "color": "#5d606b", "strokeWidth": 1, "strokeDash": [1, 2]},
      "encoding": {
        "y": {"field": "p", "type": "quantitative"}
      }
    },
    {
      "data": {"name": "forecast"},
      "mark": {"type": "line", "color": "#e0505e", "strokeWidth": 2, "strokeJoin": "round", "strokeCap": "round"},
      "encoding": {
        "x": {"field": "t", "type": "temporal"},
        "y": {"field": "p", "type": "quantitative"},
        "detail": {"field": "s"},
        "order": {"field": "i", "type": "quantitative"}
      }
    },
    {
      "data": {"name": "badge"},
      "mark": {"type": "rect", "color": "#000000"},
      "encoding": {
        "x": {"field": "t1", "type": "temporal"},
        "x2": {"field": "t2"},
        "y": {"field": "p1", "type": "quantitative"},
        "y2": {"field": "p2"}
      }
    },
    {
      "data": {"name": "badgeText"},
      "mark": {"type": "text", "align": "left", "baseline": "middle", "color": "#ffffff", "font": "Inter", "fontSize": 12},
      "encoding": {
        "x": {"field": "t", "type": "temporal"},
        "y": {"field": "p", "type": "quantitative"},
        "text": {"field": "label"}
      }
    }
  ]
}
